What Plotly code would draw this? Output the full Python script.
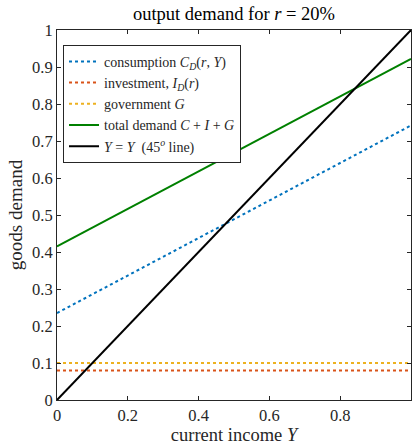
import plotly.graph_objects as go

Y = [0.0, 1.0]
consumption = [0.235, 0.742]
investment = [0.08, 0.08]
government = [0.10, 0.10]
total = [0.415, 0.922]
diag = [0.0, 1.0]

FONT = "Liberation Serif"
AX = "#262626"

fig = go.Figure()
fig.add_trace(go.Scatter(x=Y, y=consumption, mode="lines",
    line=dict(color="#0072BD", width=2, dash="dot"),
    name="consumption <i>C</i><sub><i>D</i></sub>(<i>r</i>, <i>Y</i>)"))
fig.add_trace(go.Scatter(x=Y, y=investment, mode="lines",
    line=dict(color="#D95319", width=2, dash="dot"),
    name="investment, <i>I</i><sub><i>D</i></sub>(<i>r</i>)"))
fig.add_trace(go.Scatter(x=Y, y=government, mode="lines",
    line=dict(color="#EDB120", width=2, dash="dot"),
    name="government <i>G</i>"))
fig.add_trace(go.Scatter(x=Y, y=total, mode="lines",
    line=dict(color="#008000", width=2),
    name="total demand <i>C</i> + <i>I</i> + <i>G</i>"))
fig.add_trace(go.Scatter(x=Y, y=diag, mode="lines",
    line=dict(color="black", width=2),
    name="<i>Y</i> = <i>Y</i>  (45<sup><i>o</i></sup> line)"))

axis_common = dict(
    range=[0, 1], showgrid=False, zeroline=False,
    showline=True, linecolor=AX, linewidth=1, mirror="ticks",
    ticks="inside", ticklen=4, tickcolor=AX, automargin=False,
    tickfont=dict(family=FONT, size=16.5, color=AX),
)

fig.update_layout(
    width=413, height=445,
    margin=dict(l=57, r=2, t=30, b=45),
    paper_bgcolor="white", plot_bgcolor="white",
    title=dict(text="output demand for <i>r</i> = 20%", xref="paper", x=0.5,
               xanchor="center", yref="container", y=0.985, yanchor="top",
               font=dict(family=FONT, size=18.5, color="black")),
    xaxis=dict(axis_common, tickvals=[0, 0.2, 0.4, 0.6, 0.8, 1],
               ticktext=["0", "0.2", "0.4", "0.6", "0.8", "1"],
               title=dict(text="current income <i>Y</i>", standoff=2,
                          font=dict(family=FONT, size=18.5, color=AX))),
    yaxis=dict(axis_common, tickvals=[i / 10 for i in range(11)],
               ticktext=["0", "0.1", "0.2", "0.3", "0.4", "0.5", "0.6", "0.7", "0.8", "0.9", "1"],
               title=dict(text="goods demand", standoff=4,
                          font=dict(family=FONT, size=19, color=AX))),
    legend=dict(x=0.017, y=0.96, xanchor="left", yanchor="top",
                bgcolor="white", bordercolor=AX, borderwidth=1,
                font=dict(family=FONT, size=14, color=AX),
                tracegroupgap=0, itemwidth=30),
    showlegend=True,
)

fig.write_html("out.html", config={"displayModeBar": False},
               post_script="document.body.style.margin='0';document.body.style.overflow='hidden';")
